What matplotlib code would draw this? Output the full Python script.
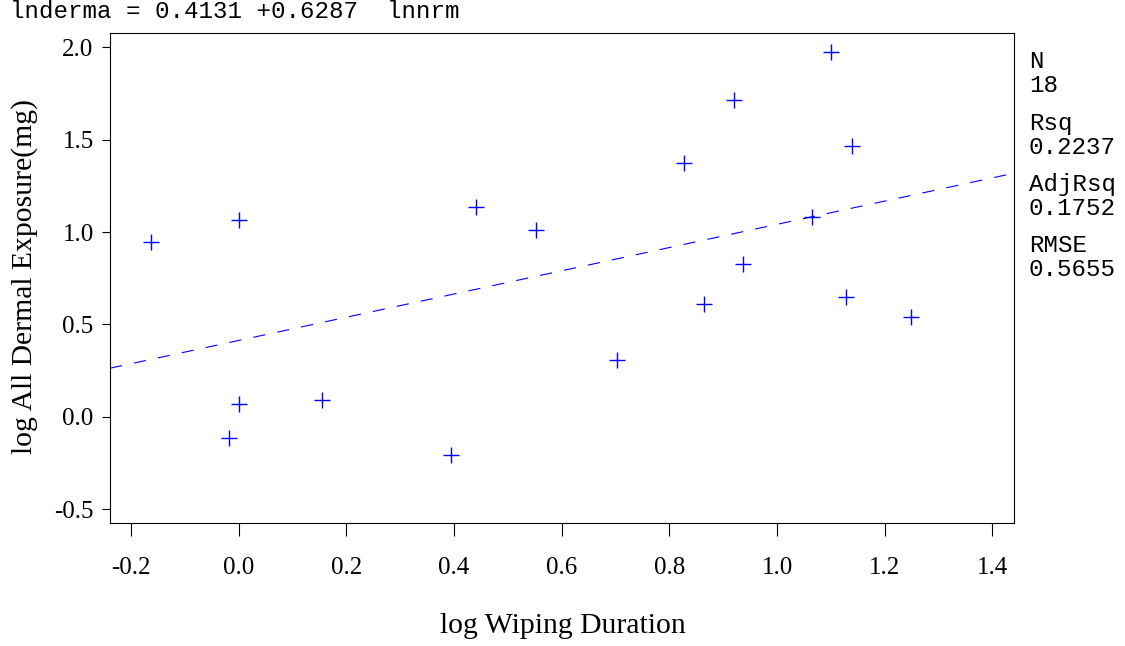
import matplotlib
matplotlib.use("Agg")
import matplotlib.pyplot as plt
import numpy as np

# log wiping duration vs log all dermal exposure
log_wiping = [-0.163, 0.000, 0.000, -0.018, 0.155, 0.395, 0.440, 0.553, 0.702,
              0.827, 0.864, 0.920, 0.937, 1.065, 1.100, 1.140, 1.128, 1.249]
log_dermal = [0.944, 1.063, 0.069, -0.116, 0.090, -0.207, 1.133, 1.009, 0.306,
              1.371, 0.608, 1.712, 0.825, 1.080, 1.977, 1.463, 0.651, 0.539]

intercept = 0.4131
slope = 0.6287

stat_names = ["N", "Rsq", "AdjRsq", "RMSE"]
stat_values = ["18", "0.2237", "0.1752", "0.5655"]

xlim = (-0.239, 1.44)
ylim = (-0.575, 2.079)

W, H = 1125, 646
fig = plt.figure(figsize=(W / 100, H / 100), dpi=100)
ax = fig.add_axes([110 / W, 1 - 523 / H, (1014 - 110) / W, (523 - 32.7) / H])

serif = "Liberation Serif"
mono = "Liberation Mono"
blue = "#0000ff"

# fitted line across the full x range
xs = np.array(xlim)
ax.plot(xs, intercept + slope * xs, color=blue, linestyle=(0, (11, 11)), linewidth=0.8)
ax.plot(log_wiping, log_dermal, linestyle="none", marker="+", markersize=11,
        markeredgewidth=1.0, color=blue)

ax.set_xlim(*xlim)
ax.set_ylim(*ylim)
ax.set_xticks(np.arange(-0.2, 1.41, 0.2))
ax.set_yticks(np.arange(-0.5, 2.01, 0.5))
ax.set_xticklabels([f"{v:.1f}" for v in np.arange(-0.2, 1.41, 0.2)])
ax.set_yticklabels([f"{v:.1f}" for v in np.arange(-0.5, 2.01, 0.5)])
ax.tick_params(axis="x", length=9.4, width=0.8, pad=15, labelsize=18)
ax.tick_params(axis="y", length=5.8, width=0.8, pad=6, labelsize=18)
for lab in ax.get_xticklabels() + ax.get_yticklabels():
    lab.set_fontfamily(serif)
for s in ax.spines.values():
    s.set_linewidth(0.8)

fig.text(563 / W, 1 - 626 / H, "log Wiping Duration", family=serif, fontsize=21.3,
         ha="center", va="center")
fig.text(25 / W, 1 - 277 / H, "log All Dermal Exposure(mg)", family=serif, fontsize=21.3,
         ha="center", va="center", rotation=90)

fig.text(10 / W, 1 - 12 / H, f"lnderma = {intercept:.4f} +{slope:.4f}  lnnrm",
         family=mono, fontsize=17.4, ha="left", va="center")

y0 = 62
for i, (name, val) in enumerate(zip(stat_names, stat_values)):
    yy = y0 + i * 61.3
    fig.text(1029 / W, 1 - yy / H, name, family=mono, fontsize=17.4, ha="left", va="center")
    fig.text(1029 / W, 1 - (yy + 24) / H, val, family=mono, fontsize=17.4, ha="left", va="center")

fig.savefig("out.png", dpi=100)
